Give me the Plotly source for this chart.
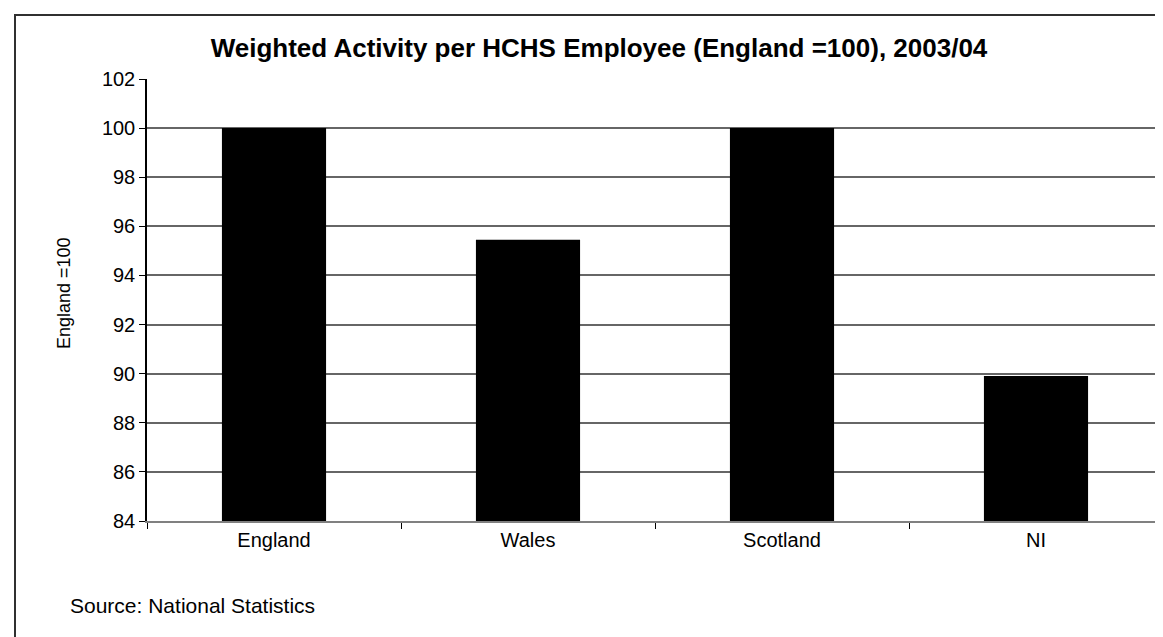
import plotly.graph_objects as go

categories = ["England", "Wales", "Scotland", "NI"]
values = [100.0, 95.45, 100.0, 89.9]
y_ticks = [84, 86, 88, 90, 92, 94, 96, 98, 100, 102]
y_base = 84

W, H = 1163, 637
L, R, T, B = 139, 1155, 71, 513

def px(x):
    return (x - L) / (R - L)

def py(y):
    return (B - y) / (B - T)

FONT = "Liberation Sans, Arial, sans-serif"

fig = go.Figure(go.Bar(
    x=categories, y=[v - y_base for v in values], base=y_base, width=0.41,
    marker=dict(color="black", line=dict(width=0)),
))

fig.update_layout(
    width=W, height=H,
    margin=dict(l=L, r=W - R, t=T, b=H - B),
    paper_bgcolor="white", plot_bgcolor="white",
    showlegend=False,
    font=dict(family=FONT, size=20, color="black"),
    title=dict(
        text="<b>Weighted Activity per HCHS Employee (England =100), 2003/04</b>",
        x=px(591), xref="paper", xanchor="center",
        y=1 - 40 / H, yref="container", yanchor="middle",
        font=dict(family=FONT, size=26, color="black"),
    ),
    xaxis=dict(
        type="category", tickson="boundaries", ticks="outside", ticklen=6,
        tickcolor="black", showline=True, linecolor="#808080", linewidth=1.5,
        showgrid=False, tickfont=dict(size=20), range=[-0.5, 3.5],
    ),
    yaxis=dict(
        range=[84, 102], tickvals=y_ticks, ticks="outside", ticklen=6,
        tickcolor="black", showline=True, linecolor="black", linewidth=1.5,
        showgrid=True, gridcolor="#666666", gridwidth=1.5, zeroline=False,
        tickfont=dict(size=20),
    ),
    shapes=[
        dict(type="rect", xref="paper", yref="paper",
             x0=px(7), x1=px(1175), y0=py(650), y1=py(7),
             line=dict(color="#303030", width=2), layer="below"),
        dict(type="line", xref="paper", yref="paper",
             x0=1, x1=1, y0=0, y1=1, line=dict(color="#909090", width=2)),
    ],
    annotations=[
        dict(text="England =100", xref="paper", yref="paper",
             x=px(56), y=py(285), xanchor="center", yanchor="middle",
             textangle=-90, showarrow=False, font=dict(size=18, family=FONT)),
        dict(text="Source: National Statistics", xref="paper", yref="paper",
             x=px(60), y=py(597), xanchor="left", yanchor="middle",
             showarrow=False, font=dict(size=21, family=FONT)),
    ],
)

fig.write_html("out.html")
